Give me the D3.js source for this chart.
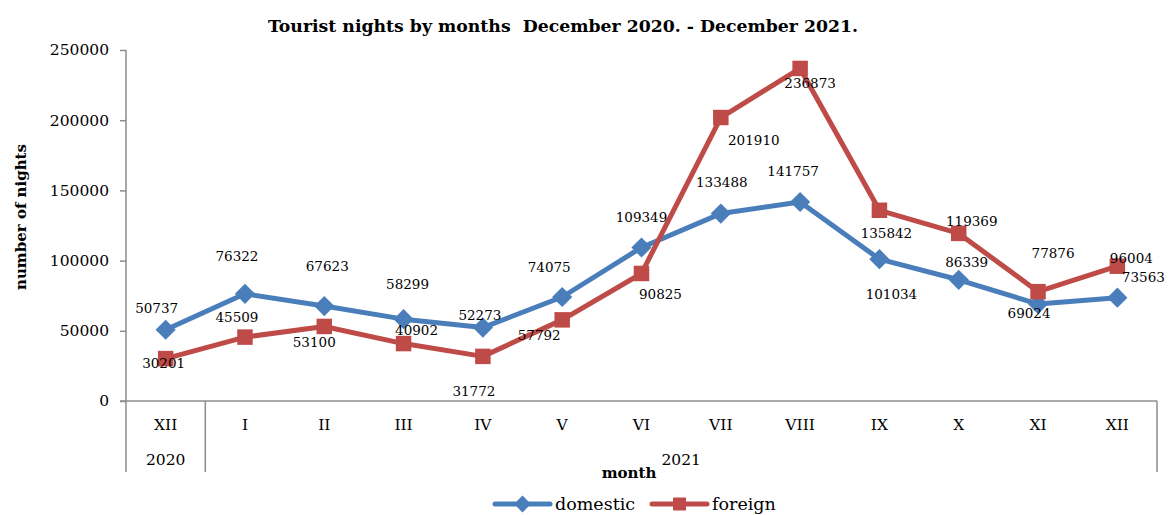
<!DOCTYPE html>
<html>
<head>
<meta charset="utf-8">
<script src="https://cdn.jsdelivr.net/npm/d3@7"></script>
<style>
  body { margin: 0; background: #fff; }
  text { font-family: "DejaVu Serif", serif; fill: #000; }
</style>
</head>
<body>
<div class="container"></div>
<script>
const width = 1168;
const height = 515;

// data
const months = ['XII', 'I', 'II', 'III', 'IV', 'V', 'VI', 'VII', 'VIII', 'IX', 'X', 'XI', 'XII'];
const years = ['2020', '2021'];
const yearSpans = [1, 12];
const domestic = [50737, 76322, 67623, 58299, 52273, 74075, 109349, 133488, 141757, 101034, 86339, 69024, 73563];
const foreign = [30201, 45509, 53100, 40902, 31772, 57792, 90825, 201910, 236873, 135842, 119369, 77876, 96004];
const yTicks = [0, 50000, 100000, 150000, 200000, 250000];

// label offsets (dx, dy) from each point, like the hand-placed excel labels
const domLabelOff = [[-9,-22],[-8,-38],[3,-40],[4,-35],[-3,-13],[-13,-30],[0,-30],[1,-32],[-7,-31],[12,35],[8,-18],[-9,9],[26,-21]];
const forLabelOff = [[-2,4],[-8,-20],[-10,16],[13,-14],[-9,35],[-23,15],[19,21],[33,22],[10,15],[7,23],[13,-12],[15,-39],[14,-8]];

const blue = '#4a7ebb';
const red = '#be4b48';
const axisColor = '#8c8c8c';

const svg = d3.select('.container')
    .append('svg')
    .attr('width', width)
    .attr('height', height);

const x = d3.scaleBand()
    .domain(d3.range(months.length))
    .range([126, 1157]);

const y = d3.scaleLinear()
    .domain([0, 250000])
    .range([401, 50]);

const cx = i => x(i) + x.bandwidth() / 2;

// title
svg.append('text')
    .attr('x', 563)
    .attr('y', 32)
    .attr('text-anchor', 'middle')
    .style('font-weight', 'bold')
    .style('font-size', '17.3px')
    .style('white-space', 'pre')
    .text('Tourist nights by months  December 2020. - December 2021.');

// y axis
const yAxis = svg.append('g')
    .attr('transform', 'translate(126,0)')
    .call(d3.axisLeft(y).tickValues(yTicks).tickSize(6).tickPadding(11).tickFormat(d3.format('d')));
yAxis.select('.domain').remove();
yAxis.selectAll('line').attr('stroke', axisColor).attr('stroke-width', 1.5);
yAxis.selectAll('text')
    .style('font-family', '"DejaVu Serif", serif')
    .style('font-size', '15.5px');

svg.append('line')
    .attr('x1', 126).attr('x2', 126)
    .attr('y1', 50).attr('y2', 472)
    .attr('stroke', axisColor).attr('stroke-width', 1.5);

svg.append('line')
    .attr('x1', 120).attr('x2', 1157)
    .attr('y1', y(0)).attr('y2', y(0))
    .attr('stroke', axisColor).attr('stroke-width', 1.5);

// group separators
let bounds = [0];
yearSpans.forEach(s => bounds.push(bounds[bounds.length - 1] + s));
svg.selectAll('.sep')
    .data(bounds.slice(1))
    .join('line')
    .attr('class', 'sep')
    .attr('x1', d => x(d - 1) + x.bandwidth())
    .attr('x2', d => x(d - 1) + x.bandwidth())
    .attr('y1', y(0))
    .attr('y2', 472)
    .attr('stroke', axisColor).attr('stroke-width', 1.5);

svg.selectAll('.month')
    .data(months)
    .join('text')
    .attr('class', 'month')
    .attr('x', (d, i) => cx(i))
    .attr('y', 425)
    .attr('text-anchor', 'middle')
    .attr('dominant-baseline', 'central')
    .style('font-size', '15.5px')
    .text(d => d);

svg.selectAll('.year')
    .data(years)
    .join('text')
    .attr('class', 'year')
    .attr('x', (d, i) => (x(bounds[i]) + x(bounds[i + 1] - 1) + x.bandwidth()) / 2)
    .attr('y', 460)
    .attr('text-anchor', 'middle')
    .attr('dominant-baseline', 'central')
    .style('font-size', '15.5px')
    .text(d => d);

// axis titles
svg.append('text')
    .attr('x', 629)
    .attr('y', 473)
    .attr('text-anchor', 'middle')
    .attr('dominant-baseline', 'central')
    .style('font-weight', 'bold')
    .style('font-size', '15px')
    .text('month');

svg.append('text')
    .attr('transform', 'translate(21,217) rotate(-90)')
    .attr('text-anchor', 'middle')
    .attr('dominant-baseline', 'central')
    .style('font-weight', 'bold')
    .style('font-size', '15px')
    .text('number of nights');

// series
const series = [
    { name: 'domestic', values: domestic, color: blue, shape: d3.symbolDiamond2, size: 260, off: domLabelOff },
    { name: 'foreign', values: foreign, color: red, shape: d3.symbolSquare, size: 240, off: forLabelOff }
];

const line = d3.line()
    .x((d, i) => cx(i))
    .y(d => y(d));

series.forEach(s => {
    const g = svg.append('g');
    g.append('path')
        .attr('d', line(s.values))
        .attr('fill', 'none')
        .attr('stroke', s.color)
        .attr('stroke-width', 5)
        .attr('stroke-linejoin', 'round');
    g.selectAll('path.mark')
        .data(s.values)
        .join('path')
        .attr('class', 'mark')
        .attr('transform', (d, i) => 'translate(' + cx(i) + ',' + y(d) + ')')
        .attr('d', d3.symbol().type(s.shape).size(s.size))
        .attr('fill', s.color);
});

series.forEach(s => {
    svg.append('g').selectAll('text')
        .data(s.values)
        .join('text')
        .attr('x', (d, i) => cx(i) + s.off[i][0])
        .attr('y', (d, i) => y(d) + s.off[i][1])
        .attr('text-anchor', 'middle')
        .attr('dominant-baseline', 'central')
        .style('font-size', '13.5px')
        .text(d => d);
});

// legend
const legendX = [495, 652];
const legend = svg.append('g');
series.forEach((s, i) => {
    const lg = legend.append('g').attr('transform', 'translate(' + legendX[i] + ',504)');
    lg.append('line')
        .attr('x1', 0).attr('x2', 55)
        .attr('stroke', s.color)
        .attr('stroke-width', 5)
        .attr('stroke-linecap', 'round');
    lg.append('path')
        .attr('transform', 'translate(27.5,0)')
        .attr('d', d3.symbol().type(s.shape).size(s.size * 0.7))
        .attr('fill', s.color);
    lg.append('text')
        .attr('x', 60)
        .attr('y', 0)
        .attr('dominant-baseline', 'central')
        .style('font-size', '17.5px')
        .text(s.name);
});
</script>
</body>
</html>
